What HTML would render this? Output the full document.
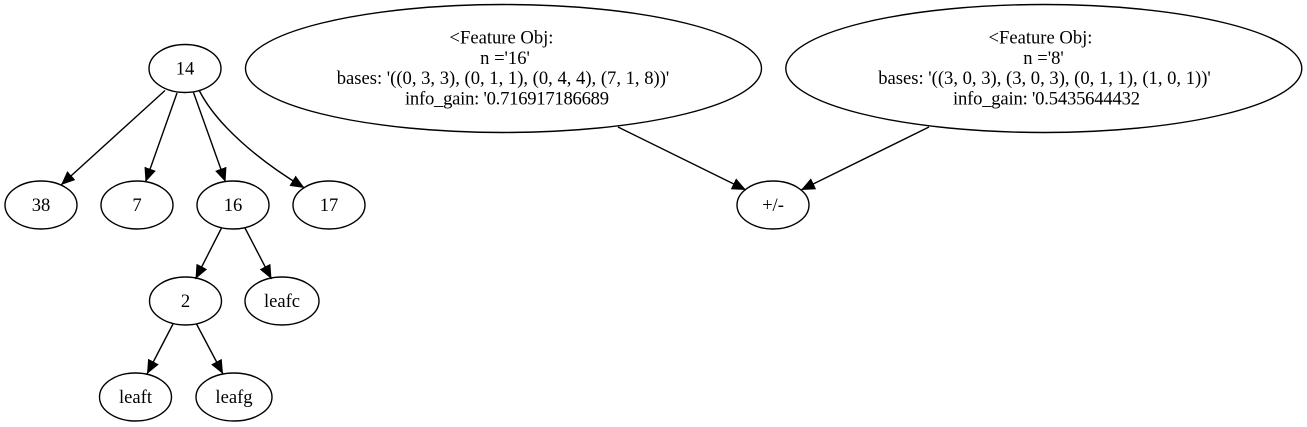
<!DOCTYPE html>
<html lang="en">
<head>
<meta charset="utf-8">
<title>Feature tree graph</title>
<style>
html,body{margin:0;padding:0;background:#fff;width:1307px;height:427px;overflow:hidden}
svg{display:block}
text{font-family:"Liberation Serif",serif;font-size:18.6px;fill:#000;text-anchor:middle}
ellipse{fill:none;stroke:#000;stroke-width:1.4}
.e{fill:none;stroke:#000;stroke-width:1.4;marker-end:url(#arrow)}
</style>
</head>
<body>
<svg width="1307" height="427" viewBox="0 0 1307 427" xmlns="http://www.w3.org/2000/svg">
<defs>
<marker id="arrow" markerUnits="userSpaceOnUse" markerWidth="15" markerHeight="13" refX="14" refY="6" orient="auto">
<polygon points="0,0 14,6 0,12" fill="#000"/>
</marker>
</defs>

<path class="e" d="M165,90.5L61,185"/>
<path class="e" d="M177,93L145.5,182"/>
<path class="e" d="M193.5,92.5L225.5,182"/>
<path class="e" d="M199.5,91C217,125 258,160 304.5,188"/>
<path class="e" d="M221.5,228L195.5,279"/>
<path class="e" d="M245,228L271.5,279"/>
<path class="e" d="M173,324L147,374"/>
<path class="e" d="M196.5,324L223,374"/>
<path class="e" d="M618,127L746,190"/>
<path class="e" d="M929,127L801,190"/>

<g><ellipse cx="185" cy="68.5" rx="36" ry="24"/><text x="185" y="74.5">14</text></g>
<g><ellipse cx="41" cy="205" rx="36" ry="24"/><text x="41" y="211">38</text></g>
<g><ellipse cx="137" cy="205" rx="36" ry="24"/><text x="137" y="211">7</text></g>
<g><ellipse cx="233" cy="205" rx="36" ry="24"/><text x="233" y="211">16</text></g>
<g><ellipse cx="329" cy="205" rx="36" ry="24"/><text x="329" y="211">17</text></g>
<g><ellipse cx="185.5" cy="301" rx="36" ry="24"/><text x="185.5" y="307">2</text></g>
<g><ellipse cx="282" cy="301" rx="37" ry="24"/><text x="282" y="307">leafc</text></g>
<g><ellipse cx="135.5" cy="397" rx="36" ry="24"/><text x="135.5" y="403">leaft</text></g>
<g><ellipse cx="234" cy="397" rx="38" ry="24"/><text x="234" y="403">leafg</text></g>
<g><ellipse cx="773" cy="205" rx="36" ry="24"/><text x="773" y="211">+/-</text></g>

<g>
<ellipse cx="503.5" cy="68.5" rx="258" ry="64"/>
<text x="501.5" y="43.5">&lt;Feature Obj:</text>
<text x="505" y="63.8">n ='16'</text>
<text x="503" y="84">bases: '((0, 3, 3), (0, 1, 1), (0, 4, 4), (7, 1, 8))'</text>
<text x="507" y="104.3" textLength="204" lengthAdjust="spacing">info_gain: '0.716917186689</text>
</g>
<g>
<ellipse cx="1043.8" cy="68.5" rx="258" ry="64"/>
<text x="1040.5" y="43.5">&lt;Feature Obj:</text>
<text x="1043.5" y="63.8">n ='8'</text>
<text x="1044.5" y="84">bases: '((3, 0, 3), (3, 0, 3), (0, 1, 1), (1, 0, 1))'</text>
<text x="1046.5" y="104.3" textLength="187" lengthAdjust="spacing">info_gain: '0.5435644432</text>
</g>
</svg>
</body>
</html>
